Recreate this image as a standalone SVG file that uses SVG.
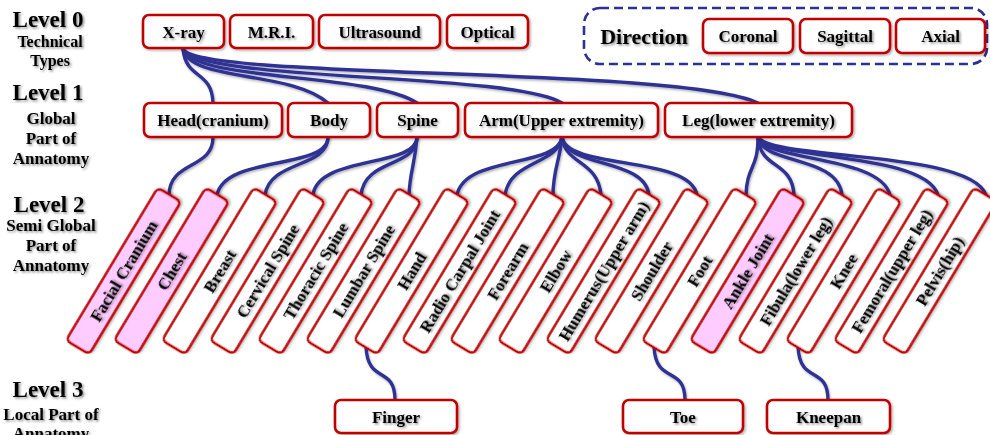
<svg xmlns="http://www.w3.org/2000/svg" width="990" height="435" viewBox="0 0 990 435">
<defs>
<filter id="ts" x="-10%" y="-30%" width="130%" height="170%"><feDropShadow dx="1.5" dy="1.5" stdDeviation="0.9" flood-color="#000" flood-opacity="0.45"/></filter>
<filter id="bs" x="-10%" y="-30%" width="130%" height="170%"><feDropShadow dx="1.5" dy="1.5" stdDeviation="1.2" flood-color="#000" flood-opacity="0.3"/></filter>
<filter id="ls" x="-5%" y="-20%" width="115%" height="150%"><feDropShadow dx="1" dy="1.5" stdDeviation="1" flood-color="#000" flood-opacity="0.3"/></filter>
</defs>
<style>
text{font-family:"Liberation Serif","Times New Roman",serif;font-weight:bold;fill:#000;text-anchor:middle;}
.t{filter:url(#ts);}
.box{fill:#fff;stroke:#C00000;stroke-width:2.6;filter:url(#bs);}
.pink{fill:#FFCCFF;}
.lbl{font-size:17px;}
.lv{font-size:23px;}
.sub{font-size:17px;}
.con path{fill:none;stroke:#2E3192;stroke-width:3.4;stroke-linecap:round;}
.dash{fill:none;stroke:#2E3192;stroke-width:2.6;stroke-dasharray:9 5;}
</style>

<g id="level-labels" class="t">
<text class="lv" x="48" y="27">Level 0</text>
<text class="sub" x="50" y="47" style="font-size:16px">Technical</text>
<text class="sub" x="50" y="66" style="font-size:16px">Types</text>
<text class="lv" x="48" y="100">Level 1</text>
<text class="sub" x="51" y="124">Global</text>
<text class="sub" x="51" y="144">Part of</text>
<text class="sub" x="51" y="164">Annatomy</text>
<text class="lv" x="49" y="212">Level 2</text>
<text class="sub" x="51" y="231">Semi Global</text>
<text class="sub" x="51" y="251">Part of</text>
<text class="sub" x="51" y="271">Annatomy</text>
<text class="lv" x="48" y="397">Level 3</text>
<text class="sub" x="51" y="420">Local Part of</text>
<text class="sub" x="51" y="439">Annatomy</text>
</g>

<g id="connectors" class="con" filter="url(#ls)">
<path d="M183,49 C186,80 212,70 213,103"/>
<path d="M183,49 C190,82 290,70 328,103"/>
<path d="M183,49 C195,82 370,72 417,103"/>
<path d="M183,49 C200,82 510,72 562,103"/>
<path d="M183,49 C200,80 680,66 758,103"/>
<path d="M213,137 C213,170 170,160 169,195"/>
<path d="M328,137 C328,170 225,155 217,195"/>
<path d="M328,137 C328,168 270,160 265,195"/>
<path d="M417,137 C417,168 318,155 313,195"/>
<path d="M417,137 C417,168 365,158 361,195"/>
<path d="M417,137 C415,165 410,170 409,195"/>
<path d="M562,137 C558,168 465,155 457,195"/>
<path d="M562,137 C558,165 510,160 505,195"/>
<path d="M562,137 C560,160 553,170 553,195"/>
<path d="M562,137 C565,165 598,160 601,195"/>
<path d="M562,137 C566,168 645,158 649,195"/>
<path d="M562,137 C566,170 690,155 697,195"/>
<path d="M758,137 C758,170 747,165 746,195"/>
<path d="M758,137 C760,170 792,160 794,195"/>
<path d="M758,137 C762,165 838,155 842,195"/>
<path d="M758,137 C765,162 880,155 890,195"/>
<path d="M758,137 C768,160 925,152 938,195"/>
<path d="M758,137 C770,160 970,150 986,195"/>
<path d="M366,347 C368,385 395,365 395,400"/>
<path d="M654,347 C656,385 685,365 685,400"/>
<path d="M798,347 C800,385 828,365 828,400"/>
</g>

<g id="direction">
<rect class="dash" x="584" y="8" width="403" height="56" rx="16"/>
<text class="t" x="644" y="44" style="font-size:22px">Direction</text>
</g>

<g id="xray"><rect class="box" x="143" y="15" width="81" height="33" rx="6"/><text class="lbl t" x="183.5" y="38">X-ray</text></g>
<g id="mri"><rect class="box" x="230" y="15" width="83" height="33" rx="6"/><text class="lbl t" x="271.5" y="38">M.R.I.</text></g>
<g id="ultrasound"><rect class="box" x="319" y="15" width="121" height="33" rx="6"/><text class="lbl t" x="379.5" y="38">Ultrasound</text></g>
<g id="optical"><rect class="box" x="447" y="15" width="81" height="33" rx="6"/><text class="lbl t" x="487.5" y="38">Optical</text></g>
<g id="coronal"><rect class="box" x="703" y="19" width="90" height="34" rx="6"/><text class="lbl t" x="748" y="42">Coronal</text></g>
<g id="sagittal"><rect class="box" x="800" y="19" width="90" height="34" rx="6"/><text class="lbl t" x="845" y="42">Sagittal</text></g>
<g id="axial"><rect class="box" x="896" y="19" width="89" height="34" rx="6"/><text class="lbl t" x="940.5" y="42">Axial</text></g>

<g id="head"><rect class="box" x="144" y="103" width="138" height="34" rx="6"/><text class="lbl t" x="213" y="126">Head(cranium)</text></g>
<g id="body"><rect class="box" x="288" y="103" width="82" height="34" rx="6"/><text class="lbl t" x="329" y="126">Body</text></g>
<g id="spine"><rect class="box" x="377" y="103" width="81" height="34" rx="6"/><text class="lbl t" x="417.5" y="126">Spine</text></g>
<g id="arm"><rect class="box" x="465" y="103" width="193" height="34" rx="6"/><text class="lbl t" x="561.5" y="126">Arm(Upper extremity)</text></g>
<g id="leg"><rect class="box" x="665" y="103" width="187" height="34" rx="6"/><text class="lbl t" x="758.5" y="126">Leg(lower extremity)</text></g>

<g id="facial-cranium" transform="translate(123.5,271) rotate(-59)"><rect class="box pink" x="-89" y="-13.5" width="178" height="27" rx="5"/><text class="lbl t" y="6">Facial Cranium</text></g>
<g id="chest" transform="translate(171.5,271) rotate(-59)"><rect class="box pink" x="-89" y="-13.5" width="178" height="27" rx="5"/><text class="lbl t" y="6">Chest</text></g>
<g id="breast" transform="translate(219.5,271) rotate(-59)"><rect class="box" x="-89" y="-13.5" width="178" height="27" rx="5"/><text class="lbl t" y="6">Breast</text></g>
<g id="cervical-spine" transform="translate(267.5,271) rotate(-59)"><rect class="box" x="-89" y="-13.5" width="178" height="27" rx="5"/><text class="lbl t" y="6">Cervical Spine</text></g>
<g id="thoracic-spine" transform="translate(315.5,271) rotate(-59)"><rect class="box" x="-89" y="-13.5" width="178" height="27" rx="5"/><text class="lbl t" y="6">Thoracic Spine</text></g>
<g id="lumbar-spine" transform="translate(363.5,271) rotate(-59)"><rect class="box" x="-89" y="-13.5" width="178" height="27" rx="5"/><text class="lbl t" y="6">Lumbar Spine</text></g>
<g id="hand" transform="translate(411.5,271) rotate(-59)"><rect class="box" x="-89" y="-13.5" width="178" height="27" rx="5"/><text class="lbl t" y="6">Hand</text></g>
<g id="radio-carpal-joint" transform="translate(459.5,271) rotate(-59)"><rect class="box" x="-89" y="-13.5" width="178" height="27" rx="5"/><text class="lbl t" y="6">Radio Carpal Joint</text></g>
<g id="forearm" transform="translate(507.5,271) rotate(-59)"><rect class="box" x="-89" y="-13.5" width="178" height="27" rx="5"/><text class="lbl t" y="6">Forearm</text></g>
<g id="elbow" transform="translate(555.5,271) rotate(-59)"><rect class="box" x="-89" y="-13.5" width="178" height="27" rx="5"/><text class="lbl t" y="6">Elbow</text></g>
<g id="humerus" transform="translate(603.5,271) rotate(-59)"><rect class="box" x="-89" y="-13.5" width="178" height="27" rx="5"/><text class="lbl t" y="6">Humerus(Upper arm)</text></g>
<g id="shoulder" transform="translate(651.5,271) rotate(-59)"><rect class="box" x="-89" y="-13.5" width="178" height="27" rx="5"/><text class="lbl t" y="6">Shoulder</text></g>
<g id="foot" transform="translate(699.5,271) rotate(-59)"><rect class="box" x="-89" y="-13.5" width="178" height="27" rx="5"/><text class="lbl t" y="6">Foot</text></g>
<g id="ankle-joint" transform="translate(747.5,271) rotate(-59)"><rect class="box pink" x="-89" y="-13.5" width="178" height="27" rx="5"/><text class="lbl t" y="6">Ankle Joint</text></g>
<g id="fibula" transform="translate(795.5,271) rotate(-59)"><rect class="box" x="-89" y="-13.5" width="178" height="27" rx="5"/><text class="lbl t" y="6">Fibula(lower leg)</text></g>
<g id="knee" transform="translate(843.5,271) rotate(-59)"><rect class="box" x="-89" y="-13.5" width="178" height="27" rx="5"/><text class="lbl t" y="6">Knee</text></g>
<g id="femoral" transform="translate(891.5,271) rotate(-59)"><rect class="box" x="-89" y="-13.5" width="178" height="27" rx="5"/><text class="lbl t" y="6">Femoral(upper leg)</text></g>
<g id="pelvis" transform="translate(939.5,271) rotate(-59)"><rect class="box" x="-89" y="-13.5" width="178" height="27" rx="5"/><text class="lbl t" y="6">Pelvis(hip)</text></g>

<g id="finger"><rect class="box" x="335" y="400" width="122" height="33" rx="6"/><text class="lbl t" x="396" y="423">Finger</text></g>
<g id="toe"><rect class="box" x="623" y="400" width="120" height="33" rx="6"/><text class="lbl t" x="683" y="423">Toe</text></g>
<g id="kneepan"><rect class="box" x="767" y="400" width="123" height="33" rx="6"/><text class="lbl t" x="828.5" y="423">Kneepan</text></g>
</svg>
